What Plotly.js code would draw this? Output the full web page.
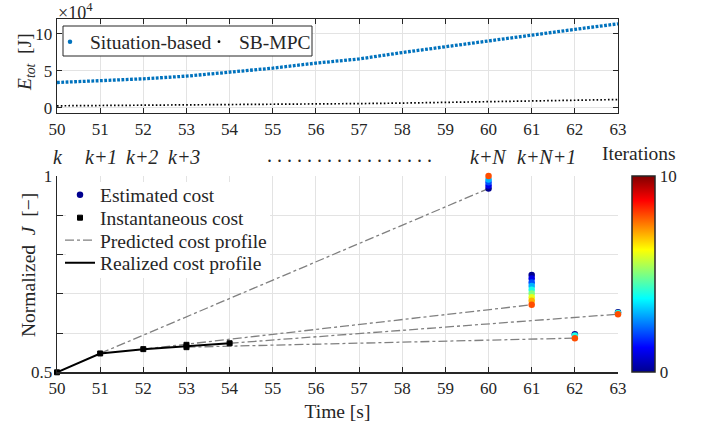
<!DOCTYPE html>
<html>
<head>
<meta charset="utf-8">
<script src="https://cdn.plot.ly/plotly-3.0.1.min.js"></script>
<style>html,body{margin:0;padding:0;background:#fff;}#chart{width:702px;height:427px;}</style>
</head>
<body>
<div id="chart"></div>
<script>
// ---------- top panel: total energy (units of 10^4 J) ----------
const timeTop = [50, 51, 52, 53, 54, 55, 56, 57, 58, 59, 60, 61, 62, 63];
const energySituation = [3.42, 3.65, 3.92, 4.28, 4.82, 5.36, 6.04, 6.6, 7.47, 8.28, 9.05, 9.86, 10.6, 11.35];
const energySBMPC = [0.27, 0.30, 0.33, 0.37, 0.41, 0.45, 0.50, 0.57, 0.64, 0.72, 0.83, 0.93, 1.03, 1.12];
const topYTicks = [0, 5, 10];

// ---------- bottom panel: normalized cost ----------
const realizedX = [50, 51, 52, 53, 54];
const realizedY = [0.5, 0.548, 0.559, 0.567, 0.574];
const instX = [50, 51, 52, 53, 53, 54];
const instY = [0.5, 0.548, 0.559, 0.564, 0.570, 0.574];
const predStartX = [51, 52, 53, 54];
const predStartY = [0.548, 0.559, 0.564, 0.574];
const predEndX = [60, 61, 62, 63];
const predEndY = [0.968, 0.672, 0.587, 0.648];
const estX = [60, 60, 60, 60, 60, 61, 61, 61, 61, 61, 61, 61, 61, 61, 62, 62, 62, 63, 63, 63];
const estY = [0.968, 0.976, 0.984, 0.991, 1.0,
              0.748, 0.739, 0.729, 0.720, 0.710, 0.701, 0.691, 0.682, 0.672,
              0.597, 0.594, 0.587,
              0.653, 0.651, 0.648];
const estIter = [0, 1, 2, 3, 8,
                 0, 1, 2, 3, 4, 5, 6, 7, 8,
                 0, 4, 8,
                 0, 4, 8];
const bottomYTicks = [0.5, 0.6, 0.7, 0.8, 0.9, 1];
const bottomYTickText = ['0.5', '', '', '', '', '1'];
const stepLabels = ['k', 'k+1', 'k+2', 'k+3', 'k+N', 'k+N+1'];
const stepLabelX = [50.02, 51.02, 51.97, 52.95, 60.0, 61.35];

const jet = [[0, '#00008F'], [0.125, '#0000FF'], [0.375, '#00FFFF'], [0.625, '#FFFF00'], [0.875, '#FF0000'], [1, '#800000']];
const axisCol = '#262626';
const gridCol = '#e3e3e3';
const FS = 19.5;

const predX = [], predY = [];
for (let i = 0; i < predStartX.length; i++) {
  predX.push(predStartX[i], predEndX[i], null);
  predY.push(predStartY[i], predEndY[i], null);
}

const traces = [
  {x: timeTop, y: energySituation, xaxis: 'x', yaxis: 'y', mode: 'lines',
   line: {color: '#0072BD', width: 3.3, dash: '2.8px,1.5px'}, showlegend: false, hoverinfo: 'skip'},
  {x: timeTop, y: energySBMPC, xaxis: 'x', yaxis: 'y', mode: 'lines',
   line: {color: '#000', width: 1.7, dash: '1.6px,2.2px'}, showlegend: false, hoverinfo: 'skip'},
  {x: [null], y: [null], xaxis: 'x', yaxis: 'y', mode: 'markers', name: 'Situation-based',
   marker: {color: '#0072BD', size: 4.5}, legend: 'legend'},
  {x: [null], y: [null], xaxis: 'x', yaxis: 'y', mode: 'markers', name: 'SB-MPC',
   marker: {color: '#000', size: 2.8}, legend: 'legend2'},

  {x: predX, y: predY, xaxis: 'x2', yaxis: 'y2', mode: 'lines', name: 'Predicted cost profile',
   line: {color: '#808080', width: 1.3, dash: 'dashdot'}, legend: 'legend5', connectgaps: false},
  {x: realizedX, y: realizedY, xaxis: 'x2', yaxis: 'y2', mode: 'lines', name: 'Realized cost profile',
   line: {color: '#000', width: 2}, legend: 'legend6'},
  {x: instX, y: instY, xaxis: 'x2', yaxis: 'y2', mode: 'markers', name: 'Instantaneous cost',
   marker: {color: '#000', symbol: 'square', size: 5, line: {color: '#000', width: 1}}, legend: 'legend4', cliponaxis: false},
  {x: estX, y: estY, xaxis: 'x2', yaxis: 'y2', mode: 'markers', name: 'Estimated cost',
   marker: {color: estIter, colorscale: jet, cmin: 0, cmax: 10, size: 6.5,
     showscale: true,
     colorbar: {x: 632/702, xanchor: 'left', y: 1 - 274/427, yanchor: 'middle',
       thickness: 23, thicknessmode: 'pixels', len: 196, lenmode: 'pixels',
       xpad: 0, ypad: 0, outlinecolor: axisCol, outlinewidth: 1.5,
       tickvals: [0, 10], ticktext: ['0', '10'], ticks: '', tickfont: {size: 17, color: axisCol}}},
   legend: 'legend3', cliponaxis: false}
];

const annotations = [
  {text: '\u00d710<sup>4</sup>', xref: 'paper', yref: 'paper', x: 56/702, y: 1 - 11/427,
   xanchor: 'left', yanchor: 'middle', showarrow: false, font: {size: 18, color: axisCol}},
  {text: 'Iterations', xref: 'paper', yref: 'paper', x: 639/702, y: 1 - 154/427,
   xanchor: 'center', yanchor: 'middle', showarrow: false, font: {size: 19.5, color: axisCol}},
  {text: '. . . . . . . . . . . . . . . . .', xref: 'paper', yref: 'paper', x: 349/702, y: 1 - 155/427,
   xanchor: 'center', yanchor: 'middle', showarrow: false, font: {size: 20, color: axisCol}},
  {text: '<i>E</i><sub><i>tot</i></sub>  [J]', xref: 'paper', yref: 'paper', x: 26/702, y: 1 - 62/427,
   xanchor: 'center', yanchor: 'middle', textangle: -90, showarrow: false, font: {size: FS, color: axisCol}},
  {text: 'Normalized  <i>J</i>  [\u2212]', xref: 'paper', yref: 'paper', x: 28/702, y: 1 - 265/427,
   xanchor: 'center', yanchor: 'middle', textangle: -90, showarrow: false, font: {size: FS, color: axisCol}}
];
for (let i = 0; i < stepLabels.length; i++) {
  annotations.push({text: '<i>' + stepLabels[i] + '</i>', xref: 'x2', yref: 'paper', x: stepLabelX[i], y: 1 - 157/427,
    xanchor: 'center', yanchor: 'middle', showarrow: false, font: {size: 20, color: axisCol}});
}

function leg(xpx, ypx) {
  return {orientation: 'v', x: xpx/702, y: 1 - ypx/427, xanchor: 'left', yanchor: 'middle',
    bgcolor: 'rgba(0,0,0,0)', borderwidth: 0, font: {size: FS, color: axisCol}, itemwidth: 30};
}

const xDom = [57/702, 618/702];
const layout = {
  width: 702, height: 427,
  margin: {l: 0, r: 0, t: 0, b: 0},
  paper_bgcolor: '#fff', plot_bgcolor: '#fff',
  font: {family: 'Liberation Serif, Times New Roman, serif', size: 17, color: axisCol},
  showlegend: true,
  xaxis: {domain: xDom, anchor: 'y', range: [50, 63], dtick: 1, tick0: 50,
    ticks: 'inside', ticklen: 5, tickcolor: axisCol, mirror: 'ticks', showline: true, linecolor: axisCol, linewidth: 1.3,
    showgrid: true, gridcolor: gridCol, zeroline: false, tickfont: {size: 17}},
  yaxis: {domain: [1 - 113/427, 1 - 19/427], anchor: 'x', range: [-0.7, 12], tickvals: topYTicks,
    ticks: 'inside', ticklen: 5, tickcolor: axisCol, mirror: 'ticks', showline: true, linecolor: axisCol, linewidth: 1.3,
    showgrid: true, gridcolor: gridCol, zeroline: false, tickfont: {size: 17}},
  xaxis2: {domain: xDom, anchor: 'y2', range: [50, 63], dtick: 1, tick0: 50,
    ticks: 'inside', ticklen: 5, tickcolor: axisCol, showline: true, linecolor: axisCol, linewidth: 1.3,
    showgrid: true, gridcolor: gridCol, zeroline: false, tickfont: {size: 17},
    title: {text: 'Time [s]', font: {size: FS}, standoff: 7}},
  yaxis2: {domain: [1 - 372.3/427, 1 - 176/427], anchor: 'x2', range: [0.5, 1], tickvals: bottomYTicks, ticktext: bottomYTickText,
    ticks: 'inside', ticklen: 6, tickcolor: axisCol, showline: true, linecolor: axisCol, linewidth: 1.3,
    showgrid: true, gridcolor: gridCol, zeroline: false, tickfont: {size: 17}},
  legend: leg(50, 42),
  legend2: leg(199, 42),
  legend3: leg(60, 195),
  legend4: leg(60, 218),
  legend5: leg(60, 240.5),
  legend6: leg(60, 263),
  shapes: [
    {type: 'rect', xref: 'paper', yref: 'paper', x0: 63/702, x1: 312/702, y0: 1 - 56/427, y1: 1 - 26/427,
     fillcolor: '#fff', line: {color: axisCol, width: 1}, layer: 'above'},
    {type: 'rect', xref: 'paper', yref: 'paper', x0: 66/702, x1: 270/702, y0: 1 - 278/427, y1: 1 - 182/427,
     fillcolor: '#fff', line: {width: 0}, layer: 'above'}
  ],
  annotations: annotations
};

Plotly.newPlot('chart', traces, layout, {staticPlot: true, displayModeBar: false});
</script>
</body>
</html>
